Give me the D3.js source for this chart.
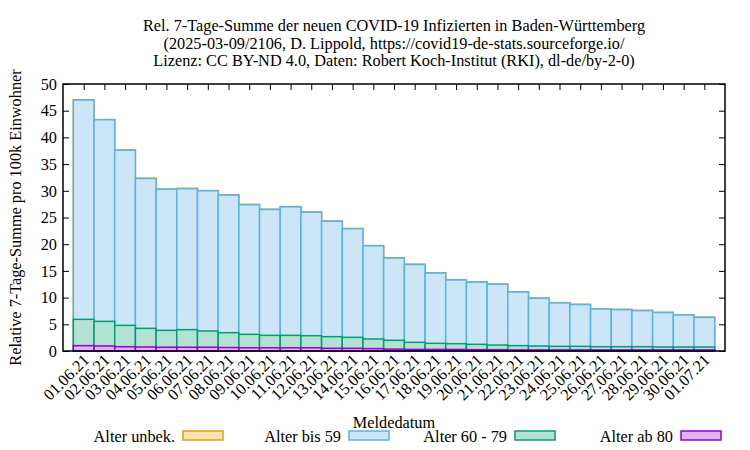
<!DOCTYPE html>
<html>
<head>
<meta charset="utf-8">
<script src="https://cdn.jsdelivr.net/npm/d3@7"></script>
<style>
body{margin:0;background:#fff;}
text{font-family:"Liberation Serif","DejaVu Serif",serif;}
</style>
</head>
<body>
<svg id="chart" width="750" height="450"></svg>
<script>
const dates = ["01.06.21","02.06.21","03.06.21","04.06.21","05.06.21","06.06.21","07.06.21","08.06.21","09.06.21","10.06.21","11.06.21","12.06.21","13.06.21","14.06.21","15.06.21","16.06.21","17.06.21","18.06.21","19.06.21","20.06.21","21.06.21","22.06.21","23.06.21","24.06.21","25.06.21","26.06.21","27.06.21","28.06.21","29.06.21","30.06.21","01.07.21"];
const ab80 = [1.0,0.95,0.8,0.75,0.7,0.7,0.7,0.65,0.6,0.6,0.6,0.6,0.5,0.5,0.45,0.35,0.3,0.3,0.3,0.25,0.25,0.2,0.2,0.2,0.2,0.2,0.2,0.2,0.2,0.2,0.2];
const a60_79 = [4.93,4.6,4.0,3.49,3.17,3.3,3.05,2.78,2.52,2.33,2.33,2.27,2.18,2.06,1.8,1.65,1.32,1.14,1.07,1.0,0.87,0.8,0.74,0.67,0.67,0.61,0.61,0.61,0.55,0.55,0.55];
const bis59 = [41.07,37.75,32.8,28.06,26.43,26.4,26.25,25.77,24.28,23.57,24.07,23.13,21.62,20.34,17.45,15.4,14.58,13.16,11.93,11.65,11.38,10.05,8.93,8.13,7.83,7.06,6.93,6.75,6.45,5.99,5.55];
const unbek = [0.05,0.05,0.05,0.05,0.05,0.05,0.05,0.05,0.05,0.05,0.05,0.05,0.05,0.05,0.05,0.05,0.05,0.05,0.05,0.05,0.05,0.05,0.05,0.05,0.05,0.05,0.05,0.05,0.05,0.05,0.05];
const yTicks = [0,5,10,15,20,25,30,35,40,45,50];
const titleLines = ["Rel. 7-Tage-Summe der neuen COVID-19 Infizierten in Baden-Württemberg","(2025-03-09/2106, D. Lippold, https://covid19-de-stats.sourceforge.io/","Lizenz: CC BY-ND 4.0, Daten: Robert Koch-Institut (RKI), dl-de/by-2-0)"];
const seriesNames = ["Alter unbek.","Alter bis 59","Alter 60 - 79","Alter ab 80"];
const strokes = ["#e69f00","#56b4e9","#009e73","#9400d3"];
const fills = ["#f9e2b3","#cce6f8","#b3e2d5","#dfb3f3"];
const FS = 16.3;

const svg = d3.select("#chart");
const L=63,R=725,T=84,B=351;
const x = d3.scaleLinear().domain([-1,dates.length]).range([L,R]);
const y = d3.scaleLinear().domain([0,50]).range([B,T]);
const bw = x(1)-x(0);

// title
svg.append("g").selectAll("text").data(titleLines).join("text")
  .attr("x",(L+R)/2).attr("y",(d,i)=>31+i*17.5).attr("text-anchor","middle")
  .attr("font-size",FS).text(d=>d);

// top ticks (mirror)
svg.append("g").attr("transform",`translate(0,${T})`)
  .call(d3.axisTop(x).tickValues(d3.range(dates.length)).tickSize(-6).tickFormat(""))
  .call(g=>g.select(".domain").remove());
// right ticks
svg.append("g").attr("transform",`translate(${R},0)`)
  .call(d3.axisRight(y).tickValues(yTicks).tickSize(-6).tickFormat(""))
  .call(g=>g.select(".domain").remove());
// left axis
svg.append("g").attr("transform",`translate(${L},0)`)
  .call(d3.axisLeft(y).tickValues(yTicks).tickSize(-6).tickPadding(6))
  .call(g=>g.select(".domain").remove())
  .call(g=>g.selectAll("text").attr("font-size",FS).attr("font-family","Liberation Serif").attr("fill","#000"));

// stacked cumulative bars
const series = [unbek,bis59,a60_79,ab80];
const cum = series.map((s,k)=>s.map((v,i)=>d3.sum(series.slice(k),ss=>ss[i])));
cum.forEach((c,k)=>{
  svg.append("g").selectAll("rect").data(c).join("rect")
    .attr("x",(d,i)=>x(i)-bw/2).attr("width",bw)
    .attr("y",d=>y(d)).attr("height",d=>y(0)-y(d))
    .attr("fill",fills[k]).attr("stroke",strokes[k]).attr("stroke-width",1.5);
});

// bottom labels
svg.append("g").attr("transform",`translate(0,${B})`)
  .call(d3.axisBottom(x).tickValues(d3.range(dates.length)).tickSize(0).tickPadding(0).tickFormat(i=>dates[i]))
  .call(g=>g.select(".domain").remove())
  .call(g=>g.selectAll("text").attr("font-size",FS).attr("font-family","Liberation Serif").attr("fill","#000")
    .attr("text-anchor","end").attr("dy",null).attr("y",null)
    .attr("transform","translate(6,10) rotate(-45)"));

// frame
svg.append("rect").attr("x",L).attr("y",T).attr("width",R-L).attr("height",B-T)
  .attr("fill","none").attr("stroke","#000").attr("stroke-width",1.5);

// axis titles
svg.append("text").attr("x",(L+R)/2).attr("y",428).attr("text-anchor","middle").attr("font-size",FS).text("Meldedatum");
svg.append("text").attr("transform",`translate(21,${(T+B)/2}) rotate(-90)`).attr("text-anchor","middle").attr("font-size",FS)
  .text("Relative 7-Tage-Summe pro 100k Einwohner");

// legend
const lg = svg.append("g");
seriesNames.forEach((n,k)=>{
  const bx = 183+166*k;
  lg.append("text").attr("x",bx-8).attr("y",442).attr("text-anchor","end").attr("font-size",FS).text(n);
  lg.append("rect").attr("x",bx).attr("y",431).attr("width",40).attr("height",9)
    .attr("fill",fills[k]).attr("stroke",strokes[k]).attr("stroke-width",1.5);
});
</script>
</body>
</html>
